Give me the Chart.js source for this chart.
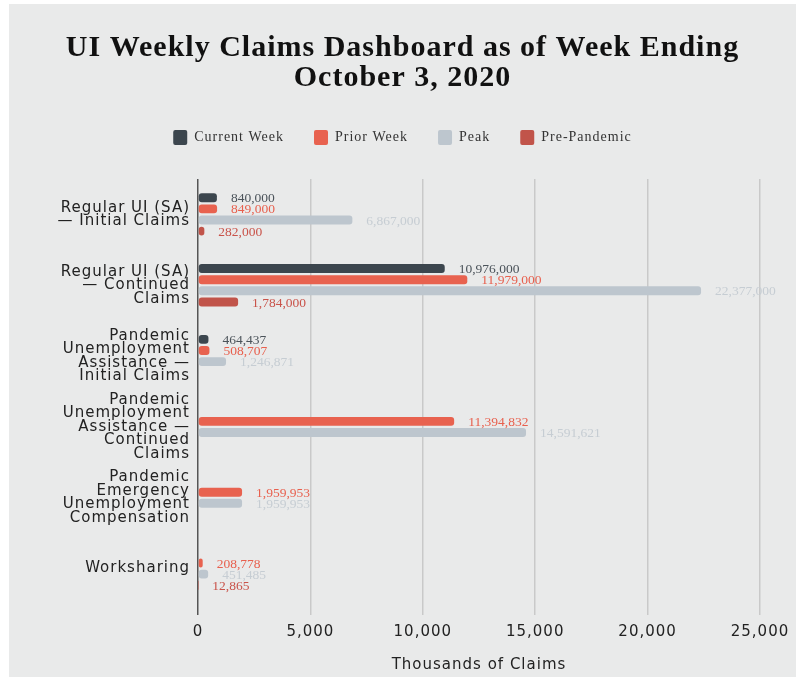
<!DOCTYPE html>
<html>
<head>
<meta charset="utf-8">
<script src="https://cdn.jsdelivr.net/npm/chart.js@4.4.1/dist/chart.umd.min.js"></script>
<style>
  html, body { margin: 0; padding: 0; background: #ffffff; }
  #panel {
    position: absolute;
    left: 9px;
    top: 4px;
    width: 787px;
    height: 673px;
    background: #e9eaea;
  }
</style>
</head>
<body>
<div id="panel"><canvas id="chart" width="787" height="673"></canvas></div>
<script>
// Categories (y axis), wrapped the way the original shows them
const categories = [
  ['Regular UI (SA)', '\u2014 Initial Claims'],
  ['Regular UI (SA)', '\u2014 Continued', 'Claims'],
  ['Pandemic', 'Unemployment', 'Assistance \u2014', 'Initial Claims'],
  ['Pandemic', 'Unemployment', 'Assistance \u2014', 'Continued', 'Claims'],
  ['Pandemic', 'Emergency', 'Unemployment', 'Compensation'],
  ['Worksharing']
];

// Values in thousands of claims
const currentWeek = [840, 10976, 464.437, null, null, null];
const priorWeek = [849, 11979, 508.707, 11394.832, 1959.953, 208.778];
const peak = [6867, 22377, 1246.871, 14591.621, 1959.953, 451.485];
const prePandemic = [282, 1784, null, null, null, 12.865];

const xTicks = [0, 5000, 10000, 15000, 20000, 25000];

const seriesColors = ['#3c464e', '#e8624f', '#bdc6ce', '#c1544a'];
const labelColors = ['#4b535a', '#e8604e', '#c6cdd3', '#c9534a'];

// Wider lettering for titles, legend and axes, like the original
const spacing = {
  id: 'spacing',
  beforeLayout(chart) { chart.ctx.letterSpacing = '1px'; },
  beforeDraw(chart) { chart.ctx.letterSpacing = '1px'; }
};

// Extra room between legend and plot
const legendGap = {
  id: 'legendGap',
  beforeInit(chart) {
    const fit = chart.legend.fit;
    chart.legend.fit = function () {
      fit.bind(chart.legend)();
      this.height += 24;
    };
  }
};

// Draws the value next to the end of each bar
const valueLabels = {
  id: 'valueLabels',
  afterDatasetsDraw(chart) {
    const ctx = chart.ctx;
    ctx.save();
    ctx.letterSpacing = '0px';
    ctx.font = '13.5px "Liberation Serif", serif';
    ctx.textBaseline = 'middle';
    ctx.textAlign = 'left';
    chart.data.datasets.forEach((ds, di) => {
      const meta = chart.getDatasetMeta(di);
      meta.data.forEach((bar, i) => {
        const v = ds.data[i];
        if (v === null || v === undefined) return;
        const text = Math.round(v * 1000).toLocaleString('en-US');
        ctx.fillStyle = labelColors[di];
        ctx.fillText(text, bar.x + 14, bar.y + 1);
      });
    });
    ctx.restore();
  }
};

const makeDataset = (label, data, i) => ({
  label: label,
  data: data,
  backgroundColor: seriesColors[i],
  borderWidth: 0,
  borderRadius: 3,
  borderSkipped: false,
  categoryPercentage: 0.63,
  barPercentage: 0.8
});

new Chart(document.getElementById('chart'), {
  type: 'bar',
  data: {
    labels: categories,
    datasets: [
      makeDataset('Current Week', currentWeek, 0),
      makeDataset('Prior Week', priorWeek, 1),
      makeDataset('Peak', peak, 2),
      makeDataset('Pre-Pandemic', prePandemic, 3)
    ]
  },
  options: {
    indexAxis: 'y',
    responsive: false,
    animation: false,
    layout: {
      padding: { left: 0, right: 0, top: 0, bottom: 0 }
    },
    plugins: {
      title: {
        display: true,
        text: ['UI Weekly Claims Dashboard as of Week Ending', 'October 3, 2020'],
        color: '#111111',
        font: { family: '"Liberation Serif", serif', size: 30, weight: 'bold', lineHeight: 1.0 },
        padding: { top: 29, bottom: 7 }
      },
      legend: {
        display: true,
        position: 'top',
        labels: {
          color: '#333333',
          font: { family: '"Liberation Serif", serif', size: 14 },
          boxWidth: 14,
          boxHeight: 15,
          padding: 30,
          useBorderRadius: true,
          borderRadius: 2
        }
      },
      tooltip: { enabled: false }
    },
    scales: {
      x: {
        type: 'linear',
        min: 0,
        max: 25000,
        afterBuildTicks: (scale) => {
          scale.ticks = xTicks.map(v => ({ value: v }));
        },
        afterFit: (scale) => { scale.paddingRight = 36; },
        ticks: {
          color: '#222222',
          font: { family: '"DejaVu Sans", sans-serif', size: 15 },
          padding: 8,
          maxRotation: 0,
          callback: (v) => Number(v).toLocaleString('en-US')
        },
        grid: {
          color: (c) => c.index === 0 ? '#555555' : '#c9c9c9',
          tickColor: (c) => c.index === 0 ? '#555555' : '#c9c9c9',
          lineWidth: 1.5,
          tickLength: 11
        },
        border: { display: false },
        title: {
          display: true,
          text: 'Thousands of Claims',
          color: '#222222',
          font: { family: '"DejaVu Sans", sans-serif', size: 15 },
          padding: { top: 7, bottom: 3 }
        }
      },
      y: {
        type: 'category',
        afterFit: (scale) => { scale.width = 189; },
        ticks: {
          color: '#222222',
          font: { family: '"DejaVu Sans", sans-serif', size: 15, lineHeight: 0.9 },
          padding: 8,
          autoSkip: false
        },
        grid: { display: false, drawTicks: false },
        border: { display: false }
      }
    }
  },
  plugins: [spacing, legendGap, valueLabels]
});
</script>
</body>
</html>
